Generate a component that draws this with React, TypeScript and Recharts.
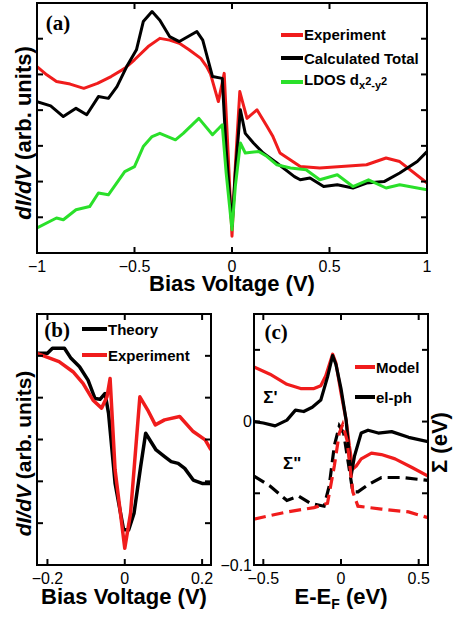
import React from 'react';
import { LineChart, Line, XAxis, YAxis, Legend, ReferenceDot } from 'recharts';

const SANS = '"Liberation Sans", Arial, Helvetica, sans-serif';
const SERIF = '"Liberation Serif", "Times New Roman", serif';
const RED = '#f01c1c';
const GREEN = '#2ae02a';

// (a) wide bias range
const biasExpA = [-1, -0.95, -0.9, -0.83, -0.76, -0.69, -0.62, -0.55, -0.5, -0.43, -0.37, -0.32, -0.27, -0.22, -0.16, -0.13, -0.11, -0.07, -0.04, -0.02, 0, 0.017, 0.04, 0.077, 0.128, 0.18, 0.21, 0.246, 0.35, 0.45, 0.69, 0.79, 0.86, 1];
const expA = [5.22, 4.99, 4.8, 4.73, 4.61, 4.75, 4.94, 5.17, 5.41, 5.78, 6.01, 5.96, 5.87, 5.69, 5.45, 5.22, 5.01, 4.24, 5.03, 2.8, 0.47, 2.42, 4.52, 3.77, 4.01, 3.54, 3.26, 2.8, 2.42, 2.38, 2.47, 2.66, 2.56, 1.96];
const biasTotA = [-1, -0.93, -0.865, -0.8, -0.745, -0.685, -0.634, -0.59, -0.54, -0.49, -0.455, -0.41, -0.37, -0.32, -0.27, -0.18, -0.15, -0.1, -0.05, -0.03, 0, 0.017, 0.043, 0.068, 0.11, 0.16, 0.23, 0.32, 0.35, 0.4, 0.47, 0.54, 0.62, 0.69, 0.78, 0.86, 0.95, 1];
const totA = [4.24, 4.12, 3.82, 4.05, 3.87, 4.38, 4.33, 4.66, 5.22, 5.69, 6.48, 6.76, 6.52, 6.06, 5.92, 6.2, 5.96, 4.94, 4.89, 2.89, 0.75, 2.24, 4.01, 3.35, 3.08, 2.8, 2.52, 2.14, 2.05, 2.1, 1.86, 1.91, 1.82, 1.96, 2.0, 2.24, 2.56, 2.84];
const biasLdosA = [-1, -0.9, -0.865, -0.8, -0.73, -0.685, -0.634, -0.55, -0.5, -0.455, -0.41, -0.37, -0.29, -0.25, -0.17, -0.1, -0.05, -0.03, 0, 0.017, 0.043, 0.068, 0.137, 0.18, 0.23, 0.3, 0.38, 0.45, 0.54, 0.62, 0.7, 0.79, 0.86, 1];
const ldosA = [0.7, 0.98, 0.93, 1.21, 1.3, 1.68, 1.63, 2.28, 2.42, 2.98, 3.26, 3.35, 3.17, 3.35, 3.77, 3.31, 3.59, 2.24, 0.65, 1.86, 3.08, 2.8, 2.84, 2.7, 2.47, 2.38, 2.33, 2.05, 2.19, 1.86, 2.05, 1.82, 1.91, 1.77];
const ticksXA = [-1, -0.5, 0, 0.5, 1];
const ticksYA = [1, 2, 3, 4, 5, 6];

// (b) zoom on the gap
const biasThB = [-0.227, -0.2, -0.187, -0.156, -0.139, -0.117, -0.095, -0.077, -0.064, -0.051, -0.042, -0.025, -0.003, 0.01, 0.024, 0.041, 0.054, 0.081, 0.103, 0.12, 0.138, 0.155, 0.177, 0.2, 0.223];
const theoryB = [5.06, 5.06, 5.18, 5.18, 4.94, 4.74, 4.42, 3.98, 3.96, 4.1, 3.63, 1.95, 0.84, 0.84, 1.24, 2.35, 3.15, 2.75, 2.59, 2.47, 2.43, 2.31, 2.03, 1.95, 1.95];
const biasExpB = [-0.227, -0.17, -0.134, -0.108, -0.082, -0.06, -0.046, -0.038, -0.025, 0, 0.015, 0.039, 0.059, 0.079, 0.103, 0.142, 0.177, 0.208, 0.223];
const expB = [5.06, 4.86, 4.62, 4.34, 3.94, 3.75, 4.02, 4.46, 2.27, 0.4, 1.24, 4.02, 3.71, 3.35, 3.47, 3.55, 3.19, 2.99, 2.75];
const ticksXB = [-0.2, 0, 0.2];
const ticksYB = [1, 2, 3, 4, 5];

// (c) self-energy
const eModelRe = [-0.56, -0.457, -0.348, -0.26, -0.174, -0.13, -0.098, -0.054, -0.033, 0, 0.033, 0.054, 0.076, 0.098, 0.13, 0.196, 0.26, 0.348, 0.457, 0.56];
const modelRe = [0.038, 0.033, 0.026, 0.023, 0.023, 0.025, 0.032, 0.047, 0.041, 0.02, 0.001, -0.017, -0.033, -0.031, -0.026, -0.022, -0.023, -0.026, -0.032, -0.038];
const ePhRe = [-0.56, -0.5, -0.424, -0.348, -0.293, -0.24, -0.185, -0.13, -0.087, -0.054, -0.033, 0, 0.033, 0.065, 0.087, 0.13, 0.174, 0.24, 0.326, 0.435, 0.56];
const phRe = [0, -0.001, -0.003, 0.001, 0.008, 0.007, 0.01, 0.015, 0.031, 0.046, 0.04, 0.023, 0.001, -0.038, -0.024, -0.008, -0.006, -0.008, -0.007, -0.011, -0.014];
const eModelIm = [-0.56, -0.348, -0.174, -0.087, -0.043, -0.011, 0.011, 0.039, 0.076, 0.109, 0.26, 0.435, 0.56];
const modelIm = [-0.068, -0.063, -0.06, -0.057, -0.031, -0.008, -0.002, -0.013, -0.049, -0.059, -0.061, -0.063, -0.067];
const ePhIm = [-0.56, -0.457, -0.348, -0.272, -0.196, -0.109, -0.076, -0.043, -0.011, 0.017, 0.043, 0.076, 0.109, 0.174, 0.26, 0.39, 0.56];
const phIm = [-0.038, -0.045, -0.055, -0.052, -0.057, -0.059, -0.045, -0.017, -0.003, -0.008, -0.026, -0.049, -0.049, -0.044, -0.039, -0.039, -0.041];
const ticksXC = [-0.5, 0, 0.5];
const ticksYC = [-0.1, -0.05, 0, 0.05];

const pts = (xs: number[], ys: number[]) => xs.map((x, i) => ({ x, y: ys[i] }));
const minus = (v: number) => String(v).replace('-', '\u2212');
const ink = { stroke: '#000', strokeWidth: 2, fill: 'none' };
const tickText = { fontFamily: SANS, fontSize: 16, fill: '#000' };

// panel geometry: chart size and the room each axis takes around the plot
type Geo = { w: number; h: number; top: number; bottom: number; left: number; right: number };
const geoA: Geo = { w: 454, h: 300, top: 3, bottom: 47, left: 37, right: 27 };
const geoB: Geo = { w: 230, h: 318, top: 14, bottom: 53, left: 37, right: 19 };
const geoC: Geo = { w: 234, h: 318, top: 14, bottom: 53, left: 34, right: 26 };

type Side = 'bottom' | 'top' | 'left' | 'right';

// tick mark pointing into the plot, plus an optional label outside it
const tickMark = (side: Side, fmt?: (v: number) => string) => (p: any) => {
  const { x, y } = p;
  const d = side === 'bottom' ? `M${x},${y}v-6` : side === 'top' ? `M${x},${y}v6` : side === 'left' ? `M${x},${y}h6` : `M${x},${y}h-6`;
  const txt = fmt ? fmt(p.payload.value) : '';
  return (
    <g>
      <path d={d} {...ink} />
      {txt && side === 'bottom' && <text x={x} y={y + 7} dy="0.72em" textAnchor="middle" style={tickText}>{txt}</text>}
      {txt && side === 'left' && <text x={x - 2} y={y} dy="0.36em" textAnchor="end" style={tickText}>{txt}</text>}
    </g>
  );
};

const xTitle = (node: React.ReactNode, base: number) => (p: any) => {
  const vb = p.viewBox;
  return (
    <text x={vb.x + vb.width / 2} y={vb.y + base} textAnchor="middle"
      style={{ fontFamily: SANS, fontWeight: 700, fontSize: 22 }}>{node}</text>
  );
};

const rotTitle = (node: React.ReactNode, dx: number, dy: number, size: number) => (p: any) => {
  const vb = p.viewBox;
  const cx = vb.x + dx;
  const cy = vb.y + vb.height / 2 + dy;
  return (
    <text x={cx} y={cy} transform={`rotate(-90 ${cx} ${cy})`} textAnchor="middle"
      style={{ fontFamily: SANS, fontWeight: 700, fontSize: size }}>{node}</text>
  );
};

const didv = [<tspan key="a" fontStyle="italic">dI/dV</tspan>, <tspan key="b"> (arb. units)</tspan>];
const cTitle = [<tspan key="a">E-E</tspan>, <tspan key="b" fontSize={14} dy={5}>F</tspan>, <tspan key="c" dy={-5}> (eV)</tspan>];

const ax = { type: 'number' as const, allowDataOverflow: true, interval: 0 as const, tickLine: false, tickSize: 0, tickMargin: 0,
  axisLine: { stroke: '#000', strokeWidth: 2 } };

const legendLabel = (v: string) => {
  if (v === 'LDOS') {
    return (
      <span>LDOS d<sub style={{ fontSize: 11, lineHeight: 1 }}>x<span style={{ verticalAlign: 4 }}>2</span>-y<span style={{ verticalAlign: 4 }}>2</span></sub></span>
    );
  }
  return v;
};

const legendBox = (order: string[], segW: number, rowH: number) => (props: any) => {
  const items = order.map((name) => (props.payload || []).find((e: any) => e.value === name)).filter(Boolean);
  return (
    <div>
      {items.map((e: any) => (
        <div key={e.value} style={{ display: 'flex', alignItems: 'center', height: rowH }}>
          <span style={{ display: 'inline-block', width: segW, height: 4, background: e.color, marginRight: 1 }} />
          <span style={{ fontFamily: SANS, fontWeight: 700, fontSize: 15, lineHeight: 1, whiteSpace: 'nowrap', color: '#000' }}>{legendLabel(e.value)}</span>
        </div>
      ))}
    </div>
  );
};

const panelLabel = (text: string, size: number, family: string) => ({
  value: text, position: 'center' as const, fontSize: size, fontWeight: 700, fill: '#000', fontFamily: family,
});

// box around the plot area, placed from the same geometry the axes use
function Frame({ g, x, y }: { g: Geo; x: number; y: number }) {
  return (
    <div style={{
      position: 'absolute', left: x + g.left - 1, top: y + g.top - 1, zIndex: 5,
      width: g.w - g.left - g.right + 2, height: g.h - g.top - g.bottom + 2,
      border: '2px solid #000', boxSizing: 'border-box', pointerEvents: 'none',
    }} />
  );
}

function PanelA() {
  const g = geoA;
  return (
    <LineChart width={g.w} height={g.h} margin={{ top: 0, right: 0, bottom: 0, left: 0 }}>
      <XAxis {...ax} dataKey="x" domain={[-1, 1]} ticks={ticksXA} height={g.bottom} tick={tickMark('bottom', minus)}
        label={{ content: xTitle('Bias Voltage (V)', 38) }} />
      <XAxis {...ax} xAxisId="top" dataKey="x" orientation="top" domain={[-1, 1]} ticks={ticksXA} height={g.top}
        tick={tickMark('top')} />
      <YAxis {...ax} domain={[0, 7]} ticks={ticksYA} width={g.left} tick={tickMark('left')}
        label={{ content: rotTitle(didv, 31, 5, 22) }} />
      <YAxis {...ax} yAxisId="right" orientation="right" domain={[0, 7]} ticks={ticksYA} width={g.right}
        tick={tickMark('right')} />
      <Legend layout="vertical" align="center" verticalAlign="middle"
        content={legendBox(['Experiment', 'Calculated Total', 'LDOS'], 22, 23.5)}
        wrapperStyle={{ left: 281, top: 23, width: 170 }} />
      <Line data={pts(biasExpA, expA)} dataKey="y" name="Experiment" stroke={RED} strokeWidth={3} dot={false}
        strokeLinejoin="round" isAnimationActive={false} />
      <Line data={pts(biasTotA, totA)} dataKey="y" name="Calculated Total" stroke="#000" strokeWidth={3} dot={false}
        strokeLinejoin="round" isAnimationActive={false} />
      <Line data={pts(biasLdosA, ldosA)} dataKey="y" name="LDOS" stroke={GREEN} strokeWidth={3} dot={false}
        strokeLinejoin="round" isAnimationActive={false} />
      <ReferenceDot x={-0.892} y={6.44} r={0} stroke="none" label={panelLabel('(a)', 21, SERIF)} />
    </LineChart>
  );
}

function PanelB() {
  const g = geoB;
  return (
    <LineChart width={g.w} height={g.h} margin={{ top: 0, right: 0, bottom: 0, left: 0 }}>
      <XAxis {...ax} dataKey="x" domain={[-0.227, 0.223]} ticks={ticksXB} height={g.bottom} tick={tickMark('bottom', minus)}
        label={{ content: xTitle('Bias Voltage (V)', 39) }} />
      <XAxis {...ax} xAxisId="top" dataKey="x" orientation="top" domain={[-0.227, 0.223]} ticks={ticksXB} height={g.top}
        tick={tickMark('top')} />
      <YAxis {...ax} domain={[0, 6]} ticks={ticksYB} width={g.left} tick={tickMark('left')}
        label={{ content: rotTitle(didv, 31, 14, 21) }} />
      <YAxis {...ax} yAxisId="right" orientation="right" domain={[0, 6]} ticks={ticksYB} width={g.right}
        tick={tickMark('right')} />
      <Legend layout="vertical" align="center" verticalAlign="middle" content={legendBox(['Theory', 'Experiment'], 25, 26)}
        wrapperStyle={{ left: 82, top: 16, width: 130 }} />
      <Line data={pts(biasThB, theoryB)} dataKey="y" name="Theory" stroke="#000" strokeWidth={3.5} dot={false}
        strokeLinejoin="round" isAnimationActive={false} />
      <Line data={pts(biasExpB, expB)} dataKey="y" name="Experiment" stroke={RED} strokeWidth={3.5} dot={false}
        strokeLinejoin="round" isAnimationActive={false} />
      <ReferenceDot x={-0.175} y={5.64} r={0} stroke="none" label={panelLabel('(b)', 21, SERIF)} />
    </LineChart>
  );
}

const fmtC = (v: number) => (v === 0 ? '0' : v === -0.1 ? '\u22120.1' : '');

function PanelC() {
  const g = geoC;
  return (
    <LineChart width={g.w} height={g.h} margin={{ top: 0, right: 0, bottom: 0, left: 0 }}>
      <XAxis {...ax} dataKey="x" domain={[-0.56, 0.56]} ticks={ticksXC} height={g.bottom} tick={tickMark('bottom', minus)}
        label={{ content: xTitle(cTitle, 39) }} />
      <XAxis {...ax} xAxisId="top" dataKey="x" orientation="top" domain={[-0.56, 0.56]} ticks={ticksXC} height={g.top}
        tick={tickMark('top')} />
      <YAxis {...ax} domain={[-0.1, 0.075]} ticks={ticksYC} width={g.left} tick={tickMark('left', fmtC)} />
      <YAxis {...ax} yAxisId="right" orientation="right" domain={[-0.1, 0.075]} ticks={ticksYC} width={g.right}
        tick={tickMark('right')} label={{ content: rotTitle('\u03a3 (eV)', 19, 3, 22) }} />
      <Legend layout="vertical" align="center" verticalAlign="middle" content={legendBox(['Model', 'el-ph'], 20, 30)}
        wrapperStyle={{ left: 135, top: 52, width: 90 }} />
      <Line data={pts(eModelRe, modelRe)} dataKey="y" name="Model" stroke={RED} strokeWidth={3.2} dot={false}
        strokeLinejoin="round" isAnimationActive={false} />
      <Line data={pts(ePhRe, phRe)} dataKey="y" name="el-ph" stroke="#000" strokeWidth={3.2} dot={false}
        strokeLinejoin="round" isAnimationActive={false} />
      <Line data={pts(ePhIm, phIm)} dataKey="y" name="el-ph im" legendType="none" stroke="#000" strokeWidth={3.2}
        strokeDasharray="12 6" dot={false} isAnimationActive={false} />
      <Line data={pts(eModelIm, modelIm)} dataKey="y" name="Model im" legendType="none" stroke={RED} strokeWidth={3.2}
        strokeDasharray="12 6" dot={false} isAnimationActive={false} />
      <ReferenceDot x={-0.417} y={0.063} r={0} stroke="none" label={panelLabel('(c)', 21, SERIF)} />
      <ReferenceDot x={-0.455} y={0.017} r={0} stroke="none" label={panelLabel("\u03a3'", 17, SANS)} />
      <ReferenceDot x={-0.314} y={-0.029} r={0} stroke="none" label={panelLabel('\u03a3"', 17, SANS)} />
    </LineChart>
  );
}

export default function App() {
  return (
    <div style={{ position: 'absolute', left: 0, top: 0, width: 454, height: 618, background: '#fff' }}>
      <div style={{ position: 'absolute', left: 0, top: 0 }}><PanelA /></div>
      <div style={{ position: 'absolute', left: 0, top: 300 }}><PanelB /></div>
      <div style={{ position: 'absolute', left: 220, top: 300 }}><PanelC /></div>
      <Frame g={geoA} x={0} y={0} />
      <Frame g={geoB} x={0} y={300} />
      <Frame g={geoC} x={220} y={300} />
    </div>
  );
}
